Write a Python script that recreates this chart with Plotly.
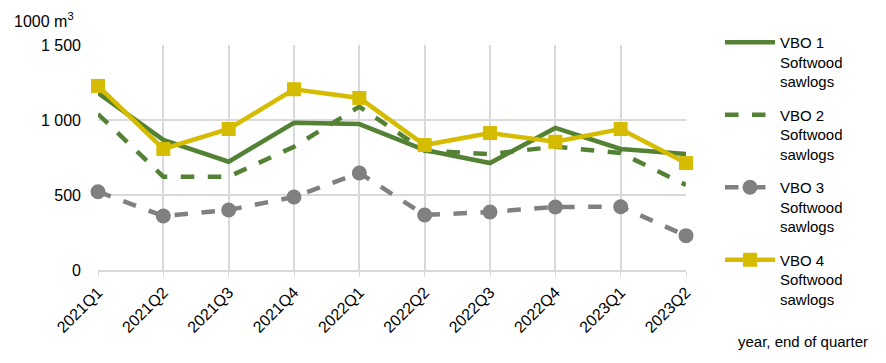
import plotly.graph_objects as go

quarters = ["2021Q1", "2021Q2", "2021Q3", "2021Q4", "2022Q1", "2022Q2",
            "2022Q3", "2022Q4", "2023Q1", "2023Q2"]
vbo1 = [1180, 867, 722, 982, 973, 800, 713, 947, 807, 773]
vbo2 = [1040, 622, 622, 822, 1089, 795, 773, 822, 780, 567]
vbo3 = [522, 360, 400, 487, 647, 367, 387, 420, 422, 229]
vbo4 = [1227, 807, 940, 1205, 1147, 833, 913, 855, 940, 713]
names = ["VBO 1<br>Softwood<br>sawlogs", "VBO 2<br>Softwood<br>sawlogs",
         "VBO 3<br>Softwood<br>sawlogs", "VBO 4<br>Softwood<br>sawlogs"]
ytick_vals = [0, 500, 1000, 1500]
ytick_text = ["0", "500", "1 000", "1 500"]

GREEN = "#548235"
GREY = "#808080"
GOLD = "#D6BC00"
FONT = "Liberation Sans"

ML, MR, MT, MB = 98, 200, 45, 93
W, H = 886, 363
PW, PH = W - ML - MR, H - MT - MB


def px_x(x):
    return (x - ML) / PW


def px_y(y):
    return (H - MB - y) / PH


fig = go.Figure()
fig.add_trace(go.Scatter(x=quarters, y=vbo1, name=names[0], mode="lines",
                         legendgroup="a",
                         line=dict(color=GREEN, width=4.5), cliponaxis=False))
fig.add_trace(go.Scatter(x=quarters, y=vbo2, name=names[1], mode="lines",
                         legendgroup="b",
                         line=dict(color=GREEN, width=4.5, dash="dash"), cliponaxis=False))
fig.add_trace(go.Scatter(x=quarters, y=vbo3, name=names[2], mode="lines+markers",
                         legendgroup="c",
                         line=dict(color=GREY, width=4.5, dash="dash"),
                         marker=dict(symbol="circle", size=15, color=GREY), cliponaxis=False))
fig.add_trace(go.Scatter(x=quarters, y=vbo4, name=names[3], mode="lines+markers",
                         legendgroup="d",
                         line=dict(color=GOLD, width=4.5),
                         marker=dict(symbol="square", size=14, color=GOLD), cliponaxis=False))

fig.update_layout(
    width=W, height=H,
    margin=dict(l=ML, r=MR, t=MT, b=MB),
    paper_bgcolor="white", plot_bgcolor="white",
    font=dict(family=FONT, size=15, color="#000000"),
    showlegend=True,
    legend=dict(x=px_x(720), y=px_y(26), xanchor="left", yanchor="top",
                valign="top", traceorder="grouped", tracegroupgap=11,
                maxheight=340,
                font=dict(family=FONT, size=15, color="#000000"),
                itemwidth=50, bgcolor="rgba(0,0,0,0)"),
    xaxis=dict(type="category", range=[0, 9], showgrid=True,
               gridcolor="#D9D9D9", gridwidth=1.5, tickangle=-45,
               showline=True, linecolor="#D9D9D9", linewidth=1.5,
               ticks="outside", tickcolor="#D9D9D9", ticklen=5,
               tickfont=dict(family=FONT, size=16), zeroline=False),
    yaxis=dict(range=[0, 1500], tickvals=ytick_vals, ticktext=ytick_text,
               showgrid=True, gridcolor="#D9D9D9", gridwidth=1.5,
               zeroline=False, showline=False, ticks="",
               ticklabelstandoff=16,
               tickfont=dict(family=FONT, size=16)),
    annotations=[
        dict(text="1000 m<sup>3</sup>", x=px_x(12), y=px_y(20),
             xref="paper", yref="paper",
             showarrow=False, xanchor="left", yanchor="middle",
             font=dict(family=FONT, size=16)),
        dict(text="year, end of quarter", x=px_x(870), y=px_y(341),
             xref="paper", yref="paper", showarrow=False,
             xanchor="right", yanchor="middle", font=dict(family=FONT, size=15)),
    ],
)

fig.write_html("out.html", post_script="document.body.style.margin='0';",
               config={"displayModeBar": False})
